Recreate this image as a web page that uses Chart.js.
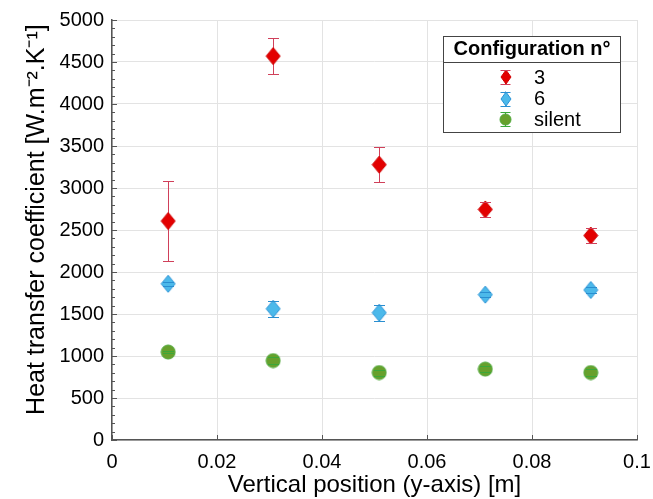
<!DOCTYPE html>
<html><head><meta charset="utf-8">
<script src="https://cdn.jsdelivr.net/npm/chart.js@4"></script>
<style>html,body{margin:0;padding:0;background:#fff;}</style>
</head><body>
<canvas id="c" width="653" height="499"></canvas>
<script>
// ---- data ----
const xPositions = [0.0107, 0.0307, 0.0509, 0.0711, 0.0912];
const config3 = [2607, 4570, 3278, 2745, 2434];
const config3Err = [475, 210, 212, 90, 93];
const config6 = [1860, 1562, 1515, 1730, 1786];
const config6Err = [22, 92, 95, 32, 33];
const silent = [1047, 945, 803, 844, 803];
const silentErr = [15, 45, 36, 35, 40];
const seriesLabels = ['3', '6', 'silent'];
const xTickLabels = ['0', '0.02', '0.04', '0.06', '0.08', '0.1'];
const yTickLabels = ['0', '500', '1000', '1500', '2000', '2500', '3000', '3500', '4000', '4500', '5000'];
const legendTitle = 'Configuration n°';
const xTitle = 'Vertical position (y-axis) [m]';
const yTitle = '\u00A0\u00A0\u00A0Heat transfer coefficient [W.m\u207B\u00B2.K\u207B\u00B9]';

const FONT = "'Liberation Sans', Arial, Helvetica, sans-serif";

function diamondImg(w, h, fill, stroke) {
  const c = document.createElement('canvas');
  c.width = w + 2; c.height = h + 2;
  const g = c.getContext('2d');
  g.beginPath();
  g.moveTo((w + 2) / 2, 1); g.lineTo(w + 1, (h + 2) / 2);
  g.lineTo((w + 2) / 2, h + 1); g.lineTo(1, (h + 2) / 2); g.closePath();
  g.fillStyle = fill; g.fill();
  g.strokeStyle = stroke; g.lineWidth = 1; g.stroke();
  return c;
}
function circleImg(d, fill, stroke) {
  const c = document.createElement('canvas');
  c.width = d + 2; c.height = d + 2;
  const g = c.getContext('2d');
  g.beginPath(); g.arc((d + 2) / 2, (d + 2) / 2, d / 2, 0, Math.PI * 2);
  g.fillStyle = fill; g.fill();
  g.strokeStyle = stroke; g.lineWidth = 1; g.stroke();
  return c;
}

const styles = [
  {fill: '#e30000', stroke: '#d00000', err: '#d0405a', shape: 'diamond'},
  {fill: '#4cb9ea', stroke: '#2a93d6', err: '#2a8ed0', shape: 'diamond'},
  {fill: '#67a02c', stroke: '#4fa83a', err: '#3aa83a', shape: 'circle'}
];
function markerImg(s, big) {
  if (s.shape === 'diamond') return big ? diamondImg(14, 17, s.fill, s.stroke) : diamondImg(10, 14, s.fill, s.stroke);
  return big ? circleImg(14, s.fill, s.stroke) : circleImg(11, s.fill, s.stroke);
}

const allVals = [config3, config6, silent];
const allErrs = [config3Err, config6Err, silentErr];
const bigImgs = styles.map(s => markerImg(s, true));
const smallImgs = styles.map(s => markerImg(s, false));
const datasets = allVals.map((vals, i) => ({
  label: seriesLabels[i],
  data: xPositions.map((x, j) => ({x: x, y: vals[j]})),
  pointStyle: bigImgs[i],
  showLine: false
}));

const px = v => Math.round(v) + 0.5;

function drawErr(chart, part) {
  const ctx = chart.ctx, ys = chart.scales.y;
  allVals.forEach((vals, i) => {
    const meta = chart.getDatasetMeta(i);
    ctx.save();
    ctx.strokeStyle = styles[i].err; ctx.lineWidth = 1;
    meta.data.forEach((pt, j) => {
      const v = vals[j], e = allErrs[i][j];
      const yt = px(ys.getPixelForValue(v + e)), yb = px(ys.getPixelForValue(v - e));
      const x = px(pt.x);
      ctx.beginPath();
      if (part === 'line') { ctx.moveTo(x, yt); ctx.lineTo(x, yb); }
      else {
        ctx.moveTo(x - 5.5, yt); ctx.lineTo(x + 5.5, yt);
        ctx.moveTo(x - 5.5, yb); ctx.lineTo(x + 5.5, yb);
      }
      ctx.stroke();
    });
    ctx.restore();
  });
}

const errPlugin = {
  id: 'errbars',
  beforeDatasetsDraw(chart) { drawErr(chart, 'line'); },
  afterDatasetsDraw(chart) { drawErr(chart, 'caps'); }
};

const tickPlugin = {
  id: 'innerTicks',
  afterDatasetsDraw(chart) {
    const ctx = chart.ctx, xs = chart.scales.x, ys = chart.scales.y, a = chart.chartArea;
    ctx.save();
    ctx.strokeStyle = '#555'; ctx.lineWidth = 1;
    ctx.beginPath();
    xs.ticks.forEach(t => {
      const x = px(xs.getPixelForValue(t.value));
      ctx.moveTo(x, a.bottom); ctx.lineTo(x, a.bottom - 5);
    });
    for (let v = 0; v <= 5000; v += 100) {
      const y = px(ys.getPixelForValue(v));
      const len = (v % 500 === 0) ? 5 : 3;
      ctx.moveTo(a.left, y); ctx.lineTo(a.left + len, y);
    }
    ctx.stroke();
    ctx.restore();
  }
};

const legendPlugin = {
  id: 'boxLegend',
  afterDraw(chart) {
    const ctx = chart.ctx;
    const L = 443.5, R = 620.5, T = 36.5, B = 132.5, sep = 62.5;
    ctx.save();
    ctx.fillStyle = '#fff';
    ctx.fillRect(L, T, R - L, B - T);
    ctx.strokeStyle = '#444'; ctx.lineWidth = 1;
    ctx.strokeRect(L, T, R - L, B - T);
    ctx.beginPath(); ctx.moveTo(L, sep); ctx.lineTo(R, sep); ctx.stroke();
    ctx.fillStyle = '#000';
    ctx.font = 'bold 20px ' + FONT;
    ctx.textAlign = 'center'; ctx.textBaseline = 'middle';
    ctx.fillText(legendTitle, (L + R) / 2, 49);
    const rows = [77, 98.5, 119];
    ctx.font = '20px ' + FONT;
    ctx.textAlign = 'left';
    seriesLabels.forEach((label, i) => {
      const cx = 505.5, cy = rows[i];
      ctx.strokeStyle = styles[i].err;
      ctx.beginPath();
      ctx.moveTo(cx, cy - 7); ctx.lineTo(cx, cy + 7);
      ctx.stroke();
      const img = smallImgs[i];
      ctx.drawImage(img, Math.round(cx - img.width / 2), Math.round(cy - img.height / 2));
      ctx.beginPath();
      ctx.moveTo(cx - 5, Math.round(cy - 7) + 0.5); ctx.lineTo(cx + 5, Math.round(cy - 7) + 0.5);
      ctx.moveTo(cx - 5, Math.round(cy + 7) + 0.5); ctx.lineTo(cx + 5, Math.round(cy + 7) + 0.5);
      ctx.stroke();
      ctx.fillStyle = '#000';
      ctx.fillText(label, 534, cy + 1);
    });
    ctx.restore();
  }
};

new Chart(document.getElementById('c'), {
  type: 'scatter',
  data: {datasets: datasets},
  options: {
    responsive: false,
    devicePixelRatio: 1,
    animation: false,
    layout: {padding: {top: 20, right: 16, left: 0, bottom: 0}},
    plugins: {legend: {display: false}, tooltip: {enabled: false}},
    elements: {point: {radius: 7}},
    scales: {
      x: {
        type: 'linear', min: 0, max: 0.1,
        afterFit: s => { s.height = 59; s.paddingLeft = 0; s.paddingRight = 0; },
        afterBuildTicks: s => { s.ticks = xTickLabels.map((l, i) => ({value: i * 0.02})); },
        ticks: {
          callback: (v, i) => xTickLabels[i],
          color: '#000', padding: 10, maxRotation: 0,
          font: {family: FONT, size: 20}
        },
        grid: {color: '#e3e3e3', drawTicks: false},
        border: {display: true, color: '#555', width: 1.5},
        title: {display: true, text: xTitle, color: '#000', font: {family: FONT, size: 24, lineHeight: 1.1}, padding: {top: 0, bottom: 0}}
      },
      y: {
        type: 'linear', min: 0, max: 5000,
        afterFit: s => { s.width = 112; s.paddingTop = 0; s.paddingBottom = 0; },
        afterBuildTicks: s => { s.ticks = yTickLabels.map((l, i) => ({value: i * 500})); },
        ticks: {
          callback: (v, i) => yTickLabels[i],
          color: '#000', padding: 8,
          font: {family: FONT, size: 20}
        },
        grid: {color: '#e3e3e3', drawTicks: false},
        border: {display: true, color: '#555', width: 1.5},
        title: {display: true, text: yTitle, color: '#000', font: {family: FONT, size: 25}, padding: {top: 22, bottom: 0}}
      }
    }
  },
  plugins: [errPlugin, tickPlugin, legendPlugin]
});
</script>
</body></html>
